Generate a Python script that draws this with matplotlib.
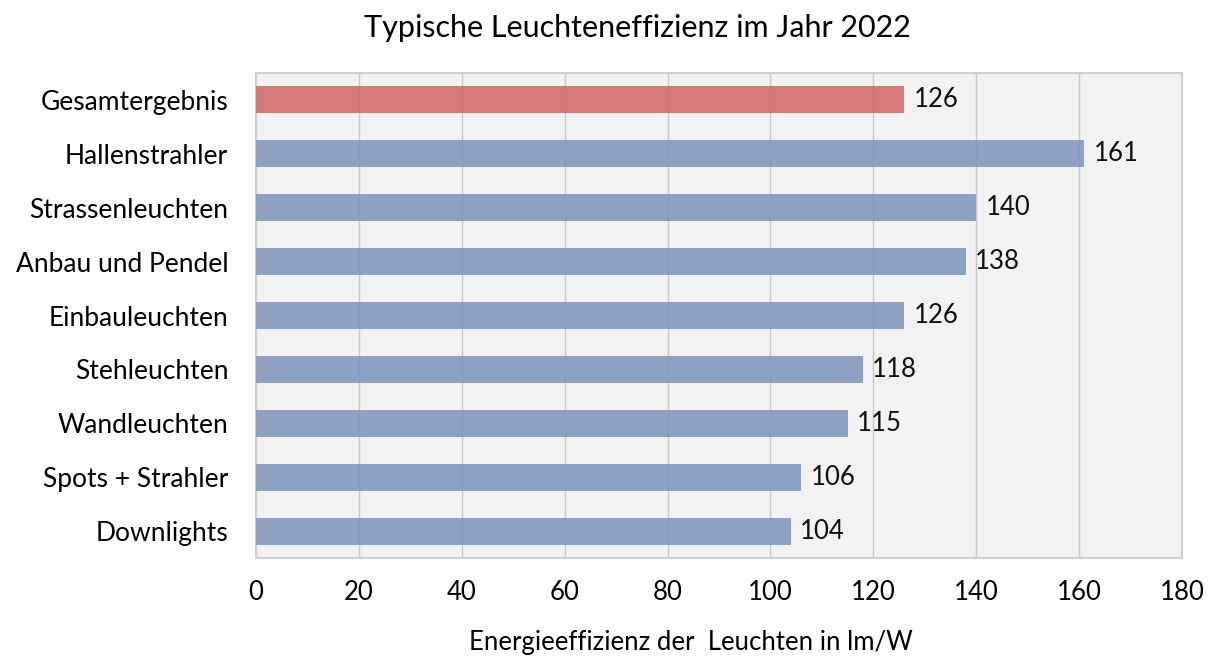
import matplotlib.pyplot as plt

plt.rcParams['font.family'] = ['Lato', 'DejaVu Sans']

# Daten
categories = ['Gesamtergebnis', 'Hallenstrahler', 'Strassenleuchten', 'Anbau und Pendel',
              'Einbauleuchten', 'Stehleuchten', 'Wandleuchten', 'Spots + Strahler', 'Downlights']
values = [126, 161, 140, 138, 126, 118, 115, 106, 104]
x_ticks = [0, 20, 40, 60, 80, 100, 120, 140, 160, 180]

colors = ['#d46a6a' if c == 'Gesamtergebnis' else '#8096bd' for c in categories]

fig = plt.figure(figsize=(12.15, 6.6), dpi=100)
ax = fig.add_axes([256 / 1215, 1 - 558 / 660, (1182 - 256) / 1215, (558 - 73) / 660])
ax.set_facecolor('#f2f2f2')

pos = list(range(len(categories)))
ax.barh(pos, values, height=0.5, color=colors, alpha=0.88, zorder=3)
for p, v in zip(pos, values):
    ax.text(v + 1.8, p, str(v), va='center', ha='left', fontsize=18.5, color='#111111', zorder=4)

ax.set_xlim(0, 180)
ax.set_ylim(len(categories) - 0.5, -0.5)
ax.set_xticks(x_ticks)
ax.set_xticklabels([str(t) for t in x_ticks], fontsize=18.5)
ax.set_yticks(pos)
ax.set_yticklabels(categories, fontsize=19)
ax.tick_params(axis='x', length=0, pad=16)
ax.tick_params(axis='y', length=0, pad=20)
ax.grid(axis='x', color='#c8c8c8', linewidth=1, zorder=1)
for s in ax.spines.values():
    s.set_color('#d0d0d0')
    s.set_linewidth(1.5)

ax.set_xlabel('Energieeffizienz der  Leuchten in lm/W', fontsize=18.5)
ax.xaxis.set_label_coords((691 - 256) / 926, -(630 - 558) / 485)
fig.text(637 / 1215, 1 - 28 / 660, 'Typische Leuchteneffizienz im Jahr 2022',
         ha='center', va='center', fontsize=22)

fig.savefig('out.png', dpi=100)
